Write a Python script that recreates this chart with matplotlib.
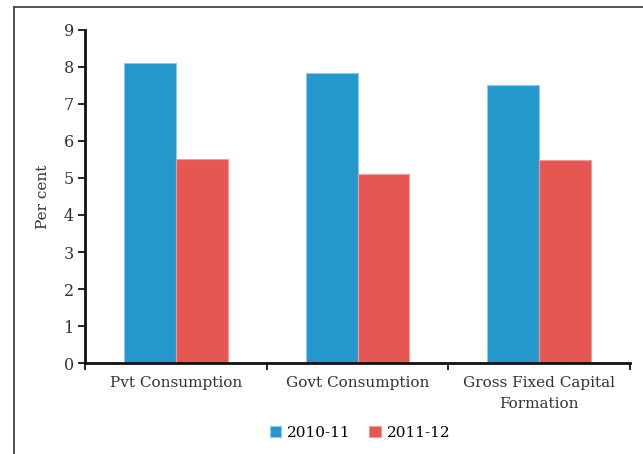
import numpy as np
import matplotlib
matplotlib.use('Agg')
import matplotlib.pyplot as plt
from matplotlib.lines import Line2D

categories = ['Pvt Consumption', 'Govt Consumption', 'Gross Fixed Capital\nFormation']
series_names = ['2010-11', '2011-12']
values_2010 = [8.1, 7.85, 7.5]
values_2011 = [5.5, 5.1, 5.48]
colors = ['#2498cd', '#e65754']
edges = ['#8fcbe8', '#f19a97']

plt.rcParams['font.family'] = ['DejaVu Serif']

fig = plt.figure(figsize=(6.43, 4.54), dpi=100)
ax = fig.add_axes([0.132, 0.2004, 0.848, 0.7336])

x = np.arange(len(categories))
w = 0.285
ax.bar(x - w / 2, values_2010, w, color=colors[0], edgecolor=edges[0], linewidth=0.8, label=series_names[0])
ax.bar(x + w / 2, values_2011, w, color=colors[1], edgecolor=edges[1], linewidth=0.8, label=series_names[1])

ax.set_xlim(-0.5, len(categories) - 0.5)
ax.set_ylim(0, 9)
ax.set_yticks(range(0, 10))
ax.set_xticks(x)
ax.set_xticklabels(categories, fontsize=11, color='#333333', linespacing=1.65)
ax.set_xticks(np.arange(-0.5, len(categories)), minor=True)
ax.tick_params(axis='x', which='major', length=0, pad=9)
ax.tick_params(axis='x', which='minor', length=5, width=1.2, direction='out')
ax.tick_params(axis='y', length=5, width=1.2, direction='out', labelsize=11.5, labelcolor='#333333', pad=3)
ax.set_ylabel('Per cent', fontsize=11, color='#333333', labelpad=10)

for s in ['top', 'right']:
    ax.spines[s].set_visible(False)
for s in ['left', 'bottom']:
    ax.spines[s].set_linewidth(2)
    ax.spines[s].set_color('#111111')

fig.legend(loc='center', bbox_to_anchor=(0.56, 1 - 433 / 454), ncol=2, frameon=False,
           fontsize=11, handlelength=0.75, handleheight=0.75, handletextpad=0.4, columnspacing=1.2)

# outer frame: top and left edges
fig.add_artist(Line2D([14 / 643, 1], [1 - 6.5 / 454, 1 - 6.5 / 454], transform=fig.transFigure, color='#444444', lw=1.3))
fig.add_artist(Line2D([14 / 643, 14 / 643], [0, 1 - 6.5 / 454], transform=fig.transFigure, color='#444444', lw=1.3))

fig.savefig('out.png', dpi=100)
